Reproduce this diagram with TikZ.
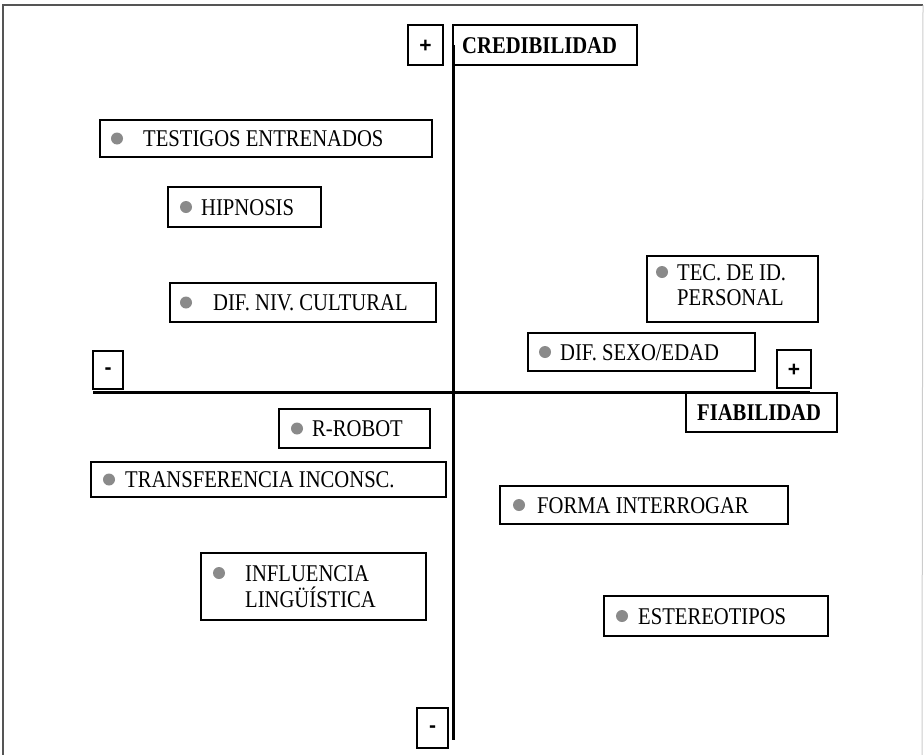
\documentclass[tikz,border=0pt]{standalone}
\usepackage{fontspec}
\setmainfont{Liberation Serif}[FakeStretch=0.86]
\newfontfamily\signfont{Liberation Sans}
\definecolor{bulletgray}{HTML}{8A8A8A}
\definecolor{framegray}{HTML}{555555}
\definecolor{framelight}{HTML}{CCCCCC}
\begin{document}
\begin{tikzpicture}[x=1pt,y=-1pt,
  box/.style={draw, line width=1.5pt, inner sep=0pt},
  lbl/.style={anchor=base west, inner sep=0pt, font=\fontsize{24}{27}\selectfont},
  blbl/.style={anchor=base west, inner sep=0pt, font=\bfseries\fontsize{24}{27}\selectfont},
  bul/.style={circle, fill=bulletgray, minimum size=12pt, inner sep=0pt},
  sign/.style={inner sep=0pt, font=\signfont\bfseries\fontsize{21}{24}\selectfont},
  axis/.style={line width=3pt},
  frame/.style={line width=1.8pt, framegray}]
\useasboundingbox (0,0) rectangle (924,755);
% outer frame
\coordinate (fbl) at (3,755);
\coordinate (ftl) at (3,5);
\coordinate (ftr) at (923,5);
\coordinate (fbr) at (922,755);
\draw[frame] (fbl) -- (ftl) -- (ftr);
\draw[line width=1pt, framelight] (ftr) -- (fbr);
% axes
\coordinate (vtop) at (453,45);
\coordinate (vbot) at (453,740);
\coordinate (hleft) at (93,392);
\coordinate (hright) at (810,392);
\draw[axis] (vtop) -- (vbot);
\draw[axis] (hleft) -- (hright);
% sign boxes
\node[box, minimum width=35pt, minimum height=40pt] (ptop) at (425.5,45) {};
\node[sign] (ptopt) at (425.5,46) {+};
\node[box, minimum width=30pt, minimum height=38pt] (mleft) at (108,370) {};
\node[sign] (mleftt) at (108,371) {-};
\node[box, minimum width=34pt, minimum height=38pt] (pright) at (794,369) {};
\node[sign] (prightt) at (794,370) {+};
\node[box, minimum width=31pt, minimum height=40pt] (mbot) at (432.5,728) {};
\node[sign] (mbott) at (432.5,729) {-};
% axis labels
\node[box, minimum width=184pt, minimum height=40pt] (cred) at (545,45) {};
\node[blbl] (credt) at (462,53) {CREDIBILIDAD};
\node[box, minimum width=151pt, minimum height=39pt] (fiab) at (761.5,412.5) {};
\node[blbl] (fiabt) at (697,420.5) {FIABILIDAD};
% items
\node[box, minimum width=332pt, minimum height=37pt] (testigos) at (266,138.5) {};
\node[bul] (testigosb) at (117,138.5) {};
\node[lbl] (testigost) at (143,146.5) {TESTIGOS ENTRENADOS};

\node[box, minimum width=153pt, minimum height=40pt] (hipnosis) at (244.5,207) {};
\node[bul] (hipnosisb) at (186,207) {};
\node[lbl] (hipnosist) at (201,215) {HIPNOSIS};

\node[box, minimum width=266pt, minimum height=39pt] (difniv) at (303,302.5) {};
\node[bul] (difnivb) at (186,302.5) {};
\node[lbl] (difnivt) at (213,310.5) {DIF. NIV. CULTURAL};

\node[box, minimum width=171pt, minimum height=66pt] (tec) at (732.5,289) {};
\node[bul] (tecb) at (662,272) {};
\node[lbl] (tect1) at (677,280) {TEC. DE ID.};
\node[lbl] (tect2) at (677,305) {PERSONAL};

\node[box, minimum width=227pt, minimum height=38pt] (difsexo) at (641.5,352) {};
\node[bul] (difsexob) at (545,352) {};
\node[lbl] (difsexot) at (560,360) {DIF. SEXO/EDAD};

\node[box, minimum width=151pt, minimum height=39pt] (rrobot) at (354.5,428.5) {};
\node[bul] (rrobotb) at (297,428.5) {};
\node[lbl] (rrobott) at (312,436.5) {R-ROBOT};

\node[box, minimum width=355pt, minimum height=35pt] (transf) at (268.5,479.5) {};
\node[bul] (transfb) at (109,479.5) {};
\node[lbl] (transft) at (125,487.5) {TRANSFERENCIA INCONSC.};

\node[box, minimum width=288pt, minimum height=38pt] (forma) at (644,505) {};
\node[bul] (formab) at (519,505) {};
\node[lbl] (format) at (537,513) {FORMA INTERROGAR};

\node[box, minimum width=225pt, minimum height=67pt] (infl) at (313.5,586.5) {};
\node[bul] (inflb) at (219,573) {};
\node[lbl] (inflt1) at (245,581) {INFLUENCIA};
\node[lbl] (inflt2) at (245,607) {LINGÜÍSTICA};

\node[box, minimum width=224pt, minimum height=40pt] (ester) at (716,616) {};
\node[bul] (esterb) at (622,616) {};
\node[lbl] (estert) at (638,624) {ESTEREOTIPOS};
\end{tikzpicture}
\end{document}
